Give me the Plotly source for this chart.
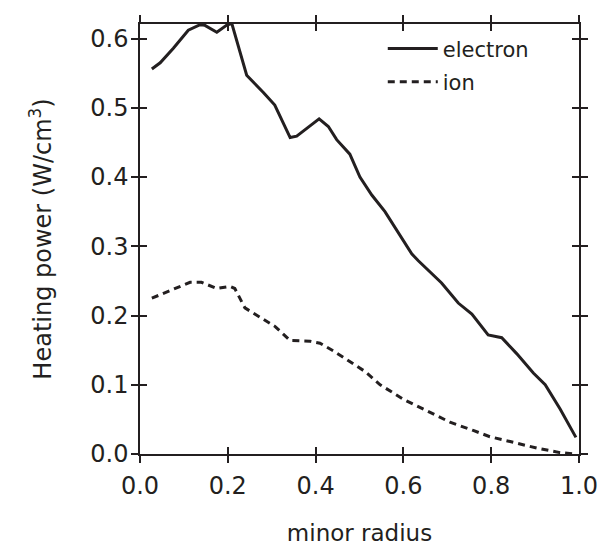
import plotly.graph_objects as go

electron_x = [0.027, 0.046, 0.076, 0.110, 0.137, 0.148, 0.175, 0.197, 0.209, 0.243, 0.281, 0.307,
              0.342, 0.357, 0.408, 0.429, 0.448, 0.478, 0.501, 0.528, 0.558, 0.619, 0.634, 0.657,
              0.687, 0.725, 0.756, 0.793, 0.824, 0.858, 0.896, 0.923, 0.957, 0.993]
electron_y = [0.556, 0.565, 0.586, 0.612, 0.620, 0.619, 0.609, 0.619, 0.622, 0.547, 0.522, 0.504,
              0.457, 0.459, 0.484, 0.473, 0.454, 0.433, 0.400, 0.374, 0.350, 0.289, 0.279, 0.265,
              0.247, 0.218, 0.202, 0.172, 0.168, 0.145, 0.117, 0.100, 0.065, 0.024]

ion_x = [0.027, 0.068, 0.114, 0.140, 0.175, 0.205, 0.216, 0.239, 0.281, 0.308, 0.342, 0.387,
         0.410, 0.440, 0.513, 0.547, 0.600, 0.653, 0.706, 0.759, 0.797, 0.843, 0.904, 0.957, 0.991]
ion_y = [0.225, 0.236, 0.248, 0.248, 0.239, 0.242, 0.239, 0.211, 0.195, 0.184, 0.164, 0.163,
         0.160, 0.149, 0.119, 0.100, 0.079, 0.063, 0.046, 0.034, 0.025, 0.018, 0.0085, 0.002, 0.0]

x_ticks = [0.0, 0.2, 0.4, 0.6, 0.8, 1.0]
x_ticklabels = ["0.0", "0.2", "0.4", "0.6", "0.8", "1.0"]
y_ticks = [0.0, 0.1, 0.2, 0.3, 0.4, 0.5, 0.6]
y_ticklabels = ["0.0", "0.1", "0.2", "0.3", "0.4", "0.5", "0.6"]

FONT = "DejaVu Sans"
INK = "#231f20"

fig = go.Figure()
fig.add_trace(go.Scatter(x=electron_x, y=electron_y, mode="lines", name="electron",
                         legendgroup="e", line=dict(color=INK, width=3)))
fig.add_trace(go.Scatter(x=ion_x, y=ion_y, mode="lines", name="ion",
                         legendgroup="i", line=dict(color=INK, width=3, dash="7px,5px")))
# invisible trace on overlay axes so they render (outer half of the crossing ticks)
fig.add_trace(go.Scatter(x=[None], y=[None], xaxis="x2", yaxis="y2", showlegend=False,
                         hoverinfo="skip"))

xr = [0.0, 1.0]
yr = [0.0, 0.621]
common = dict(showgrid=False, zeroline=False, showline=True, linecolor=INK, linewidth=1.5,
              tickcolor=INK, tickwidth=1.5, ticklen=7, mirror="ticks")

# page body has an 8px margin, so the figure is sized/offset to compensate
fig.update_layout(
    width=601, height=542,
    margin=dict(l=132, r=30, t=7, b=96),
    paper_bgcolor="white", plot_bgcolor="white",
    font=dict(family=FONT, color=INK, size=24),
    xaxis=dict(range=xr, tickvals=x_ticks, ticktext=x_ticklabels, ticks="inside",
               ticklabelstandoff=9, tickfont=dict(size=24),
               title=dict(text="minor radius", font=dict(size=23), standoff=26), **common),
    yaxis=dict(range=yr, tickvals=y_ticks, ticktext=y_ticklabels, ticks="inside",
               ticklabelstandoff=5, tickfont=dict(size=24),
               title=dict(text="Heating power (W/cm<sup>3</sup>)", font=dict(size=24), standoff=32),
               **common),
    xaxis2=dict(range=xr, tickvals=x_ticks, ticks="outside", overlaying="x", showticklabels=False,
                **common),
    yaxis2=dict(range=yr, tickvals=y_ticks, ticks="outside", overlaying="y", showticklabels=False,
                **common),
    legend=dict(x=0.553, y=0.99, xanchor="left", yanchor="top", bgcolor="rgba(0,0,0,0)",
                font=dict(size=21), tracegroupgap=3, itemwidth=50),
    showlegend=True,
)

fig.write_html("out.html")
